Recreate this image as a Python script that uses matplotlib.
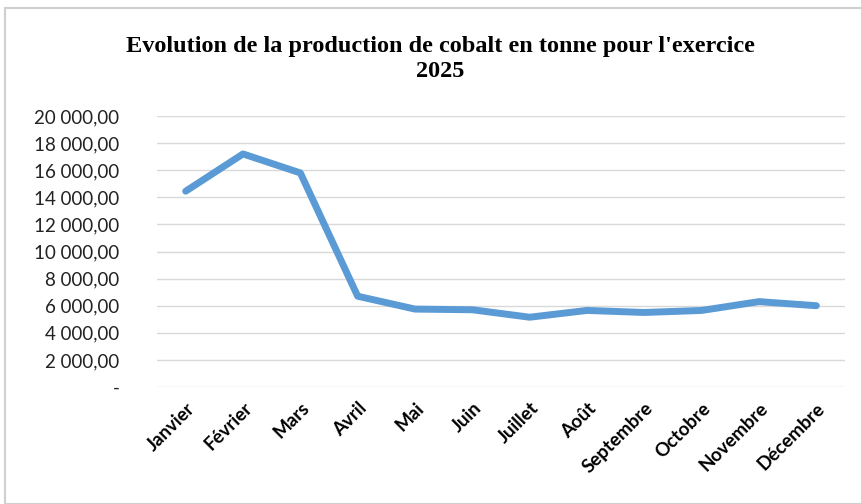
import matplotlib
matplotlib.use("Agg")
import matplotlib.pyplot as plt
from matplotlib.ticker import FuncFormatter
from matplotlib.patches import Rectangle

months = ["Janvier", "Février", "Mars", "Avril", "Mai", "Juin", "Juillet",
          "Août", "Septembre", "Octobre", "Novembre", "Décembre"]
production = [14450, 17200, 15800, 6700, 5750, 5700, 5150, 5650, 5500, 5650, 6300, 6000]
yticks = [0, 2000, 4000, 6000, 8000, 10000, 12000, 14000, 16000, 18000, 20000]
title = "Evolution de la production de cobalt en tonne pour l'exercice\n2025"

fig = plt.figure(figsize=(8.61, 5.04), dpi=100)
fig.patches.append(Rectangle((5/861, 0), 1, 1 - 8/504, transform=fig.transFigure,
                             fill=False, edgecolor="#D0D0D0", linewidth=1.5))

ax = fig.add_axes([157/861, 1 - 387/504, (845 - 157)/861, (387 - 116)/504])
x = list(range(len(months)))
ax.plot(x, production, color="#5B9BD5", linewidth=5, solid_capstyle="round",
        solid_joinstyle="round", zorder=3)

ax.set_xlim(-0.5, len(months) - 0.5)
ax.set_ylim(0, 20000)
ax.set_yticks(yticks)

def fmt(v, pos):
    if v == 0:
        return "-"
    return f"{int(v):,}".replace(",", " ") + ",00"

ax.yaxis.set_major_formatter(FuncFormatter(fmt))
ax.grid(axis="y", color="#D9D9D9", linewidth=1)
ax.set_axisbelow(True)
for s in ax.spines.values():
    s.set_visible(False)
ax.tick_params(axis="both", length=0)
ax.tick_params(axis="y", pad=27)
for lab in ax.get_yticklabels():
    lab.set_fontfamily("Lato")
    lab.set_fontsize(13.5)
    lab.set_color("#222222")

ax.set_xticks(x)
ax.set_xticklabels(months, rotation=45, ha="right", rotation_mode="anchor",
                   fontfamily="Lato", fontweight="bold", fontsize=13.5)
ax.tick_params(axis="x", pad=9)

fig.text(440/861, 1 - 59/504, title, ha="center", va="center",
         fontfamily="Liberation Serif", fontweight="bold", fontsize=17.5,
         linespacing=1.2)

fig.savefig("out.png", dpi=100)
